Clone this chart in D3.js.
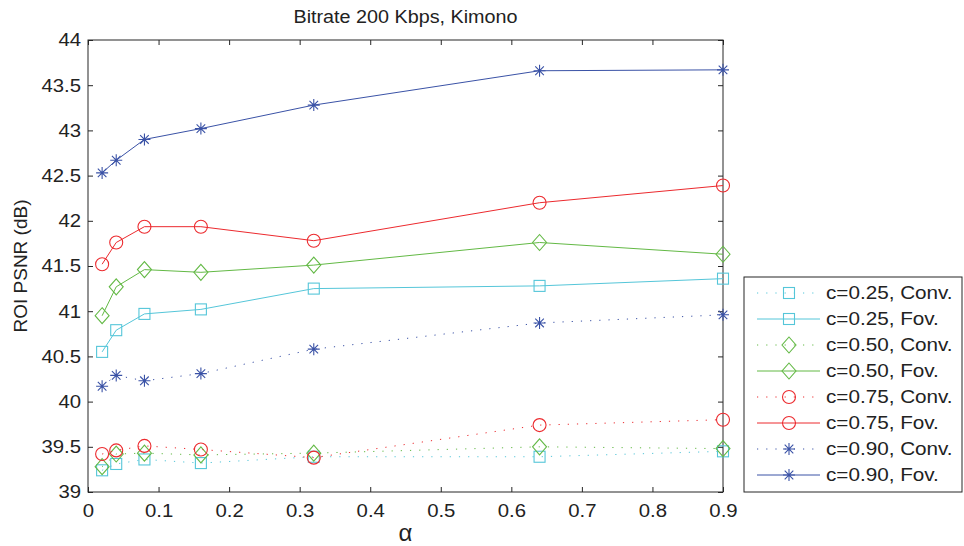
<!DOCTYPE html>
<html>
<head>
<script src="https://d3js.org/d3.v7.min.js"></script>
<style>
  body { margin: 0; background: #fff; }
  text { font-family: "Liberation Sans", Arial, sans-serif; fill: #222; }
</style>
</head>
<body>
<div id="chart"></div>
<script>
// alpha values on the x axis
const alphas = [0.02, 0.04, 0.08, 0.16, 0.32, 0.64, 0.9];

// ROI PSNR values (dB)
const conv025 = [39.24, 39.31, 39.36, 39.32, 39.39, 39.39, 39.45];
const fov025  = [40.55, 40.79, 40.97, 41.02, 41.25, 41.28, 41.36];
const conv050 = [39.28, 39.42, 39.43, 39.41, 39.43, 39.50, 39.48];
const fov050  = [40.95, 41.27, 41.46, 41.43, 41.51, 41.76, 41.63];
const conv075 = [39.42, 39.46, 39.51, 39.47, 39.38, 39.74, 39.80];
const fov075  = [41.52, 41.76, 41.935, 41.935, 41.78, 42.20, 42.39];
const conv090 = [40.17, 40.29, 40.23, 40.31, 40.58, 40.87, 40.96];
const fov090  = [42.53, 42.67, 42.90, 43.02, 43.28, 43.66, 43.67];

const xTicks = [0, 0.1, 0.2, 0.3, 0.4, 0.5, 0.6, 0.7, 0.8, 0.9];
const yTicks = [39, 39.5, 40, 40.5, 41, 41.5, 42, 42.5, 43, 43.5, 44];

const series = [
  { name: "c=0.25, Conv.", values: conv025, color: "#55c6d9", dotted: true,  marker: "square" },
  { name: "c=0.25, Fov.",  values: fov025,  color: "#55c6d9", dotted: false, marker: "square" },
  { name: "c=0.50, Conv.", values: conv050, color: "#63b945", dotted: true,  marker: "diamond" },
  { name: "c=0.50, Fov.",  values: fov050,  color: "#63b945", dotted: false, marker: "diamond" },
  { name: "c=0.75, Conv.", values: conv075, color: "#ec2a2e", dotted: true,  marker: "circle" },
  { name: "c=0.75, Fov.",  values: fov075,  color: "#ec2a2e", dotted: false, marker: "circle" },
  { name: "c=0.90, Conv.", values: conv090, color: "#3a52a6", dotted: true,  marker: "star" },
  { name: "c=0.90, Fov.",  values: fov090,  color: "#3a52a6", dotted: false, marker: "star" }
];

const W = 964, H = 546;
const margin = { left: 88, right: 241, top: 40, bottom: 54 };

const svg = d3.select("#chart").append("svg")
  .attr("width", W).attr("height", H);

const x = d3.scaleLinear().domain([0, 0.9]).range([margin.left, W - margin.right]);
const y = d3.scaleLinear().domain([39, 44]).range([H - margin.bottom, margin.top]);

const axisColor = "#262626";

// the original font is a bit wider than Liberation Sans, stretch it horizontally
function stretch(sel, k) {
  sel.each(function () {
    const t = d3.select(this);
    const ax = +t.attr("x") || 0;
    t.attr("transform", `translate(${ax},0) scale(${k},1) translate(${-ax},0)`);
  });
}

function styleAxis(g) {
  g.select(".domain").remove();
  g.selectAll("line").attr("stroke", axisColor);
  g.selectAll("text").style("font-size", "18.5px").attr("fill", "#222");
}

// axes with inward ticks on all four sides
const xAxisG = svg.append("g")
  .attr("transform", `translate(0,${y(39)})`)
  .call(d3.axisBottom(x).tickValues(xTicks).tickFormat(d3.format("")).tickSizeInner(-5).tickPadding(9))
  .call(styleAxis);
xAxisG.selectAll("text").attr("dy", "0.85em");
stretch(xAxisG.selectAll("text"), 1.1);

svg.append("g")
  .attr("transform", `translate(0,${y(44)})`)
  .call(d3.axisTop(x).tickValues(xTicks).tickSizeInner(-5).tickFormat(""))
  .call(styleAxis);

const yAxisG = svg.append("g")
  .attr("transform", `translate(${x(0)},0)`)
  .call(d3.axisLeft(y).tickValues(yTicks).tickFormat(d3.format("")).tickSizeInner(-5).tickPadding(7))
  .call(styleAxis);
stretch(yAxisG.selectAll("text"), 1.1);

svg.append("g")
  .attr("transform", `translate(${x(0.9)},0)`)
  .call(d3.axisRight(y).tickValues(yTicks).tickSizeInner(-5).tickFormat(""))
  .call(styleAxis);

svg.append("rect")
  .attr("x", x(0)).attr("y", y(44))
  .attr("width", x(0.9) - x(0)).attr("height", y(39) - y(44))
  .attr("fill", "none").attr("stroke", axisColor).attr("stroke-width", 1);

// markers
function drawMarker(g, type, cx, cy, color) {
  if (type === "square") {
    g.append("rect").attr("x", cx - 5.5).attr("y", cy - 5.5).attr("width", 11).attr("height", 11)
      .attr("fill", "none").attr("stroke", color).attr("stroke-width", 1.1);
  } else if (type === "diamond") {
    g.append("path").attr("d", `M${cx},${cy - 8}L${cx + 7},${cy}L${cx},${cy + 8}L${cx - 7},${cy}Z`)
      .attr("fill", "none").attr("stroke", color).attr("stroke-width", 1.1);
  } else if (type === "circle") {
    g.append("circle").attr("cx", cx).attr("cy", cy).attr("r", 6.5)
      .attr("fill", "none").attr("stroke", color).attr("stroke-width", 1.1);
  } else {
    const r = 6, d = 4.3;
    g.append("path")
      .attr("d", `M${cx - r},${cy}L${cx + r},${cy}M${cx},${cy - r}L${cx},${cy + r}` +
                 `M${cx - d},${cy - d}L${cx + d},${cy + d}M${cx - d},${cy + d}L${cx + d},${cy - d}`)
      .attr("fill", "none").attr("stroke", color).attr("stroke-width", 1.1);
  }
}

const line = d3.line().x(d => x(d[0])).y(d => y(d[1]));

const plot = svg.append("g");
series.forEach(s => {
  const pts = alphas.map((a, i) => [a, s.values[i]]);
  plot.append("path")
    .attr("d", line(pts))
    .attr("fill", "none")
    .attr("stroke", s.color)
    .attr("stroke-width", 1)
    .attr("stroke-dasharray", s.dotted ? "1.2,8" : null);
  pts.forEach(p => drawMarker(plot, s.marker, x(p[0]), y(p[1]), s.color));
});

// title and labels
const title = svg.append("text")
  .attr("x", (x(0) + x(0.9)) / 2).attr("y", 23)
  .attr("text-anchor", "middle")
  .style("font-size", "17.5px")
  .text("Bitrate 200 Kbps, Kimono");
stretch(title, 1.13);

svg.append("text")
  .attr("x", (x(0) + x(0.9)) / 2).attr("y", 541)
  .attr("text-anchor", "middle")
  .style("font-size", "24px")
  .text("α");

svg.append("text")
  .attr("transform", `translate(27,${(y(39) + y(44)) / 2}) rotate(-90)`)
  .attr("text-anchor", "middle")
  .style("font-size", "19px")
  .text("ROI PSNR (dB)");

// legend
const lg = svg.append("g");
lg.append("rect")
  .attr("x", 744).attr("y", 277).attr("width", 218).attr("height", 215)
  .attr("fill", "#fff").attr("stroke", axisColor).attr("stroke-width", 1);

series.forEach((s, i) => {
  const cy = 293 + i * 26;
  lg.append("line")
    .attr("x1", 757).attr("x2", 820).attr("y1", cy).attr("y2", cy)
    .attr("stroke", s.color).attr("stroke-width", 1)
    .attr("stroke-dasharray", s.dotted ? "1.2,8" : null);
  drawMarker(lg, s.marker, 789, cy, s.color);
  const t = lg.append("text")
    .attr("x", 826).attr("y", cy).attr("dy", "0.35em")
    .style("font-size", "18px")
    .text(s.name);
  stretch(t, 1.15);
});
</script>
</body>
</html>
